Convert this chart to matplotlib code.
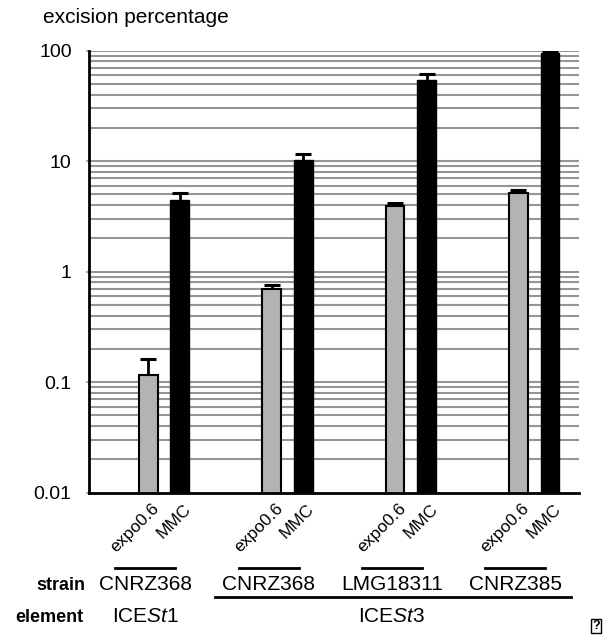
import matplotlib
matplotlib.use('Agg')
import matplotlib.pyplot as plt
import matplotlib.transforms as mtransforms
import numpy as np
from matplotlib.ticker import FixedLocator, NullFormatter

plt.rcParams['font.family'] = ['Liberation Sans', 'DejaVu Sans']
plt.rcParams['mathtext.fontset'] = 'custom'
plt.rcParams['mathtext.rm'] = 'Liberation Sans'
plt.rcParams['mathtext.it'] = 'Liberation Sans:italic'

# data
strains = ['CNRZ368', 'CNRZ368', 'LMG18311', 'CNRZ385']
elements = ['ICE$\\mathit{St1}$', 'ICE$\\mathit{St3}$']
conditions = ['expo0.6', 'MMC']
expo_vals = [0.116, 0.70, 3.9, 5.15]
expo_top = [0.162, 0.754, 4.2, 5.45]
mmc_vals = [4.45, 10.3, 54.3, 94.8]
mmc_top = [5.13, 11.5, 61.5, 98.8]
y_ticks = [0.01, 0.1, 1, 10, 100]
y_ticklabels = ['0.01', '0.1', '1', '10', '100']

fig = plt.figure(figsize=(6.04, 6.42), dpi=100)
ax = fig.add_axes([0.1474, 0.2326, 0.8112, 0.6884])

x = np.arange(len(strains))
off = 0.128
w = 0.152

ax.bar(x - off, expo_vals, w, color='#b3b3b3', edgecolor='black', linewidth=1.5, zorder=3)
ax.bar(x + off, mmc_vals, w, color='black', edgecolor='black', linewidth=1.0, zorder=3)

# upper error bars only
for xs, vals, tops in [(x - off, expo_vals, expo_top), (x + off, mmc_vals, mmc_top)]:
    ax.vlines(xs, vals, tops, color='black', lw=2, zorder=4)
    ax.plot(xs, tops, ls='none', marker='_', markersize=11.5, mew=2.2, color='black', zorder=4)

ax.set_yscale('log')
ax.set_ylim(0.01, 100)
ax.set_xlim(-0.608, 3.363)

# grid at every minor/major position above the bottom
grid_vals = [m * 10.0 ** e for e in range(-2, 2) for m in range(1, 10)][1:] + [100]
for g in grid_vals:
    ax.axhline(g, color='#959595', lw=1.5, zorder=1)

ax.yaxis.set_major_locator(FixedLocator(y_ticks))
ax.set_yticklabels(y_ticklabels, fontsize=14)
ax.yaxis.set_minor_locator(FixedLocator([]))
ax.yaxis.set_minor_formatter(NullFormatter())
ax.tick_params(axis='y', which='both', direction='out', length=2.5, width=1.5,
               color='#aaaaaa', pad=10)

for s in ['top', 'right']:
    ax.spines[s].set_visible(False)
ax.spines['left'].set_linewidth(2)
ax.spines['bottom'].set_linewidth(2)
ax.spines['left'].set_zorder(5)
ax.spines['bottom'].set_zorder(5)

# rotated condition labels
tick_pos = np.concatenate([x - off, x + off])
tick_lab = [conditions[0]] * 4 + [conditions[1]] * 4
ax.set_xticks(tick_pos)
ax.set_xticklabels(tick_lab, rotation=45, ha='right', va='top', fontsize=12.5)
ax.tick_params(axis='x', length=0, pad=6)
shift = mtransforms.ScaledTranslation(0.14, 0, fig.dpi_scale_trans)
for lab in ax.get_xticklabels():
    lab.set_transform(lab.get_transform() + shift)

# strain / element rows
trans = mtransforms.blended_transform_factory(ax.transData, fig.transFigure)
strain_x = x - 0.152
for sx, name in zip(strain_x, strains):
    ax.plot([sx - 0.243, sx + 0.243], [0.1153, 0.1153], color='black', lw=2,
            transform=trans, clip_on=False)
    ax.text(sx, 0.081, name, transform=trans, ha='center', va='baseline', fontsize=15)

ax.plot([strain_x[1] - 0.435, strain_x[3] + 0.45], [0.0701, 0.0701], color='black', lw=2,
        transform=trans, clip_on=False)
ax.text(strain_x[0], 0.0312, elements[0], transform=trans, ha='center', va='baseline', fontsize=15)
ax.text(np.mean(strain_x[1:]), 0.0312, elements[1], transform=trans, ha='center',
        va='baseline', fontsize=15)

fig.text(0.1407, 0.081, 'strain', ha='right', va='baseline', fontsize=13, fontweight='bold')
fig.text(0.1374, 0.0312, 'element', ha='right', va='baseline', fontsize=13, fontweight='bold')

fig.text(0.0712, 0.964, 'excision percentage', ha='left', va='baseline', fontsize=15)

fig.text(0.987, 0.025, '?', ha='center', va='center', fontsize=9, fontweight='bold',
         bbox=dict(boxstyle='square,pad=0.1', fc='white', ec='black', lw=1))

plt.savefig('out.png', dpi=100)
